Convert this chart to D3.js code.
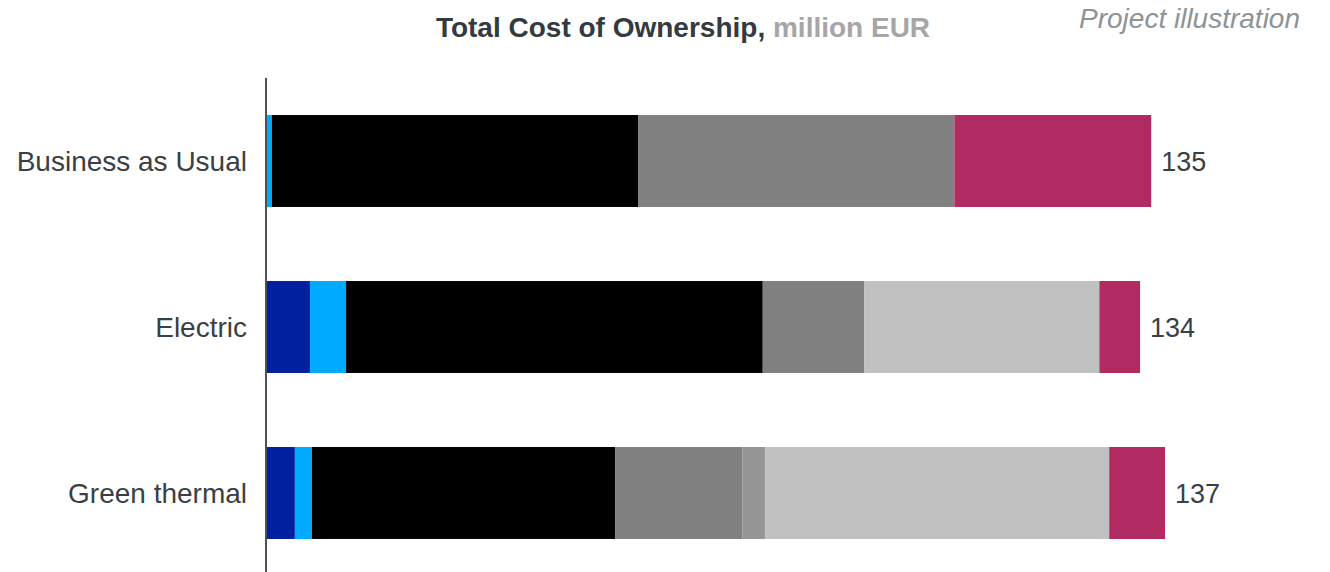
<!DOCTYPE html>
<html>
<head>
<meta charset="utf-8">
<script src="https://cdn.jsdelivr.net/npm/d3@7"></script>
<style>
  body { margin: 0; background: #fff; }
  text { font-family: "Liberation Sans", Arial, sans-serif; }
</style>
</head>
<body>
<svg id="chart" width="1330" height="572"></svg>
<script>
// scenarios (top to bottom) and their printed totals
var scenarios = ["Business as Usual", "Electric", "Green thermal"];
var totals = [135, 134, 137];

// cost components, million EUR, in stacking order
var components = ["Electrical equipment", "Charging", "Fuel & energy", "Maintenance", "Other equipment", "Batteries", "CO2 cost"];
var colors = ["#0020a0", "#00aaff", "#000000", "#808080", "#959595", "#c0c0c0", "#b22a62"];

var equipment = [0.0, 6.7, 4.4];
var charging  = [0.9, 5.5, 2.6];
var energy    = [55.8, 63.5, 46.2];
var maint     = [48.2, 15.5, 19.4];
var otherEq   = [0.0, 0.0, 3.5];
var batteries = [0.0, 35.8, 52.4];
var co2       = [30.0, 6.2, 8.5];

var series = [equipment, charging, energy, maint, otherEq, batteries, co2];

var rows = scenarios.map(function(s, i) {
  var row = { "scenario": s, "total": totals[i] };
  components.forEach(function(c, j) { row[c] = series[j][i]; });
  return row;
});

var svg = d3.select("#chart");

var params = {
  "plot": { "left": 266, "right": 1165, "top": 78, "bottom": 576 }
};

var scale = {
  "x": d3.scaleLinear().domain([0, 137]).range([params.plot.left, params.plot.right]),
  "y": d3.scaleBand().domain(scenarios)
    .range([params.plot.top, params.plot.bottom])
    .paddingInner(0.446).paddingOuter(0.223),
  "color": d3.scaleOrdinal().domain(components).range(colors)
};

var stacked = d3.stack().keys(components)(rows);

// bars
var layers = svg.append("g").selectAll("g.layer")
  .data(stacked)
  .enter()
  .append("g")
  .attr("class", "layer")
  .attr("fill", function(d) { return scale.color(d.key); });

layers.selectAll("rect")
  .data(function(d) { return d; })
  .enter()
  .append("rect")
  .attr("x", function(d) { return scale.x(d[0]); })
  .attr("y", function(d) { return scale.y(d.data.scenario); })
  .attr("width", function(d) { return Math.max(0, scale.x(d[1]) - scale.x(d[0])); })
  .attr("height", scale.y.bandwidth());

// totals at bar ends
svg.append("g").selectAll("text")
  .data(rows)
  .enter()
  .append("text")
  .attr("x", function(d) {
    var sum = d3.sum(components, function(c) { return d[c]; });
    return scale.x(sum) + 10;
  })
  .attr("y", function(d) { return scale.y(d.scenario) + scale.y.bandwidth() / 2 + 1; })
  .attr("dy", "0.35em")
  .attr("font-size", 27)
  .attr("fill", "#3a3f44")
  .text(function(d) { return d.total; });

// category axis
var gy = svg.append("g")
  .attr("transform", "translate(" + params.plot.left + ",1)")
  .call(d3.axisLeft(scale.y).tickSize(0).tickPadding(19));

gy.select(".domain").remove();
gy.selectAll("text")
  .attr("font-size", 28)
  .attr("fill", "#3a3f44");

svg.append("line")
  .attr("x1", params.plot.left).attr("x2", params.plot.left)
  .attr("y1", params.plot.top).attr("y2", 572)
  .attr("stroke", "#4d5257")
  .attr("stroke-width", 2);

// title
var title = svg.append("text")
  .attr("x", 683)
  .attr("y", 37)
  .attr("text-anchor", "middle")
  .attr("font-size", 28)
  .attr("font-weight", "bold");
title.append("tspan").attr("fill", "#333a40").text("Total Cost of Ownership, ");
title.append("tspan").attr("fill", "#a6a6a6").text("million EUR");

svg.append("text")
  .attr("x", 1300)
  .attr("y", 28)
  .attr("text-anchor", "end")
  .attr("font-size", 28)
  .attr("font-style", "italic")
  .attr("fill", "#8c9494")
  .text("Project illustration");
</script>
</body>
</html>
